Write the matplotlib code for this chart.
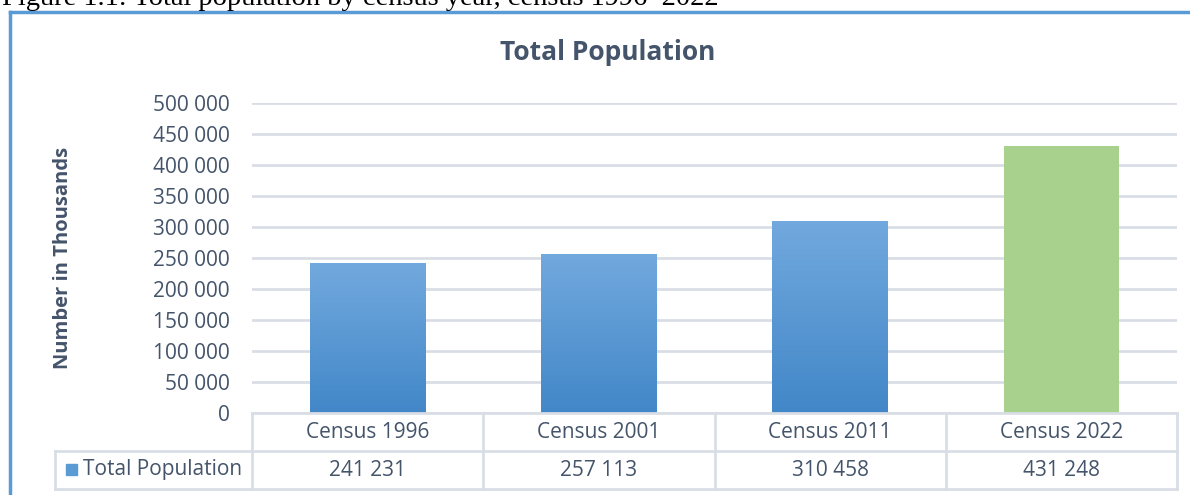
import matplotlib.pyplot as plt
import numpy as np
from matplotlib.transforms import blended_transform_factory
from matplotlib.patches import Rectangle

categories = ["Census 1996", "Census 2001", "Census 2011", "Census 2022"]
population = [241231, 257113, 310458, 431248]
series_name = "Total Population"
yticks = [0, 50000, 100000, 150000, 200000, 250000, 300000, 350000, 400000, 450000, 500000]

TXT = "#44546A"
GRID = "#D9DEE6"
BLUE_TOP = np.array([0x72, 0xA9, 0xDE]) / 255
BLUE_BOT = np.array([0x42, 0x87, 0xC8]) / 255
GREEN = "#A9D18E"
FS = 15

W, H = 1190, 495
fig = plt.figure(figsize=(W / 100, H / 100), dpi=100)
plt.rcParams['font.family'] = ['Open Sans', 'DejaVu Sans']

def fx(px):
    return px / W

def fy(py):
    return 1 - py / H

# outer chart frame (only left and top visible)
fig.add_artist(plt.Line2D([fx(10), fx(10)], [fy(12), 0], color="#5B9BD5", lw=2.5))
fig.add_artist(plt.Line2D([fx(10), 1], [fy(12), fy(12)], color="#5B9BD5", lw=2.5))

# caption, cut off at the top like in the source page
fig.text(fx(2), fy(5), "Figure 1.1: Total population by census year, census 1996\u20132022",
         family="Liberation Serif", fontsize=20.5, color="black", va="baseline", ha="left")

ax = fig.add_axes([fx(252), fy(413), fx(1177) - fx(252), fy(103) - fy(413)])
n = len(categories)
x = np.arange(n)
for s in ax.spines.values():
    s.set_visible(False)
ax.set_yticks(yticks)
ax.set_yticklabels([f"{v:,}".replace(",", " ") for v in yticks])
ax.tick_params(axis="y", length=0, pad=16, labelsize=FS, labelcolor=TXT)
ax.set_xticks([])
ax.yaxis.grid(True, color=GRID, lw=2)
ax.set_axisbelow(True)

grad = np.linspace(0, 1, 256)[:, None, None]
grad_img = BLUE_BOT + (BLUE_TOP - BLUE_BOT) * grad
grad_img = np.repeat(grad_img, 2, axis=1)

bar_w = 0.5
for i, v in enumerate(population):
    if i == n - 1:
        ax.bar(x[i], v, width=bar_w, color=GREEN, zorder=2)
    else:
        rect = Rectangle((x[i] - bar_w / 2, 0), bar_w, v, facecolor="none", edgecolor="none")
        ax.add_patch(rect)
        im = ax.imshow(grad_img, extent=(x[i] - bar_w / 2, x[i] + bar_w / 2, 0, v),
                       origin="lower", aspect="auto", zorder=2)
        im.set_clip_path(rect)
ax.set_xlim(-0.5, n - 0.5)
ax.set_ylim(0, 500000)

ax.set_ylabel("Number in Thousands", fontsize=14.5, fontweight="bold", color=TXT)
ax.yaxis.set_label_coords((fx(73) - fx(252)) / (fx(1177) - fx(252)), 0.5)
fig.text(fx(608), fy(52), "Total Population", fontsize=19, fontweight="bold",
         color=TXT, ha="center", va="center")

# data table under the axis
ah = 310.0
r1 = -38 / ah
r2 = -76 / ah
left_cell = (55 - 252) / 925.0
tr = blended_transform_factory(ax.transData, ax.transAxes)
kw = dict(color=GRID, lw=2, clip_on=False)
ax.plot([-0.5, n - 0.5], [0, 0], transform=tr, **kw)
ax.plot([left_cell, 1], [r1, r1], transform=ax.transAxes, **kw)
ax.plot([left_cell, 1], [r2, r2], transform=ax.transAxes, **kw)
ax.plot([left_cell, left_cell], [r1, r2], transform=ax.transAxes, **kw)
for b in np.arange(n + 1) - 0.5:
    ax.plot([b, b], [0, r2], transform=tr, **kw)

for i, c in enumerate(categories):
    ax.text(x[i], r1 / 2, c, transform=tr, ha="center", va="center", fontsize=FS, color=TXT)
    ax.text(x[i], (r1 + r2) / 2, f"{population[i]:,}".replace(",", " "), transform=tr,
            ha="center", va="center", fontsize=FS, color=TXT)

ax.add_patch(Rectangle((left_cell + 11 / 925, (r1 + r2) / 2 - 5 / ah), 11 / 925, 11 / ah,
                       transform=ax.transAxes, color="#5B9BD5", clip_on=False))
ax.text(left_cell + 28 / 925, (r1 + r2) / 2, series_name, transform=ax.transAxes,
        ha="left", va="center", fontsize=FS, color=TXT)

fig.savefig("out.png", dpi=100)
